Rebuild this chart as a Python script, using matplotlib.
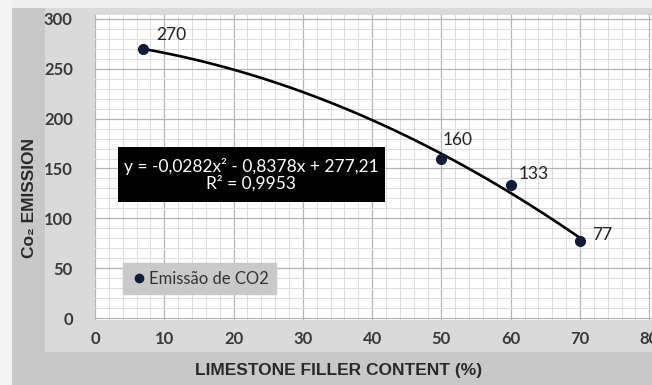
import matplotlib

matplotlib.use("Agg")
import matplotlib.pyplot as plt
import numpy as np
from matplotlib.patches import Rectangle
from matplotlib.lines import Line2D
from matplotlib.ticker import MultipleLocator

# limestone filler content (%) vs CO2 emission
filler = [7, 50, 60, 70]
emission = [270, 160, 133, 77]
point_labels = ["270", "160", "133", "77"]
label_offsets = [(9.5, 10), (1, 13.5), (6, 8.5), (8.5, 4.5)]  # points, label left/centre

# quadratic trendline shown in the chart
trend_coef = [-0.0282, -0.8378, 277.21]
eq_text = "y = -0,0282x² - 0,8378x + 277,21\nR² = 0,9953"

W, H = 652, 385
fig = plt.figure(figsize=(W / 100, H / 100), dpi=100, facecolor="#c8c8c8")


def fig_rect(x0, y0, x1, y1, color):
    # rectangle given in screenshot pixels (top-left origin), kept behind the axes
    fig.patches.append(Rectangle((x0 / W, 1 - y1 / H), (x1 - x0) / W, (y1 - y0) / H,
                                 transform=fig.transFigure, fc=color, ec="none", zorder=-5))


fig_rect(45, 8, W, 352, "#dadada")
fig_rect(0, 0, W, 8, "#efefef")
fig_rect(0, 0, 12, H, "#f3f3f3")

ax = fig.add_axes([95 / W, (H - 320) / H, (W - 95) / W, 305 / H])
ax.set_facecolor("white")
ax.set_xlim(0, 80.4)
ax.set_ylim(-2, 304)

ax.xaxis.set_major_locator(MultipleLocator(10))
ax.xaxis.set_minor_locator(MultipleLocator(2))
ax.yaxis.set_major_locator(MultipleLocator(50))
ax.yaxis.set_minor_locator(MultipleLocator(10))
ax.grid(which="major", color="#b4b4b4", linewidth=0.9)
ax.grid(which="minor", color="#dcdcdc", linewidth=0.7)
ax.set_axisbelow(True)
for s in ax.spines.values():
    s.set_visible(False)
ax.tick_params(which="both", length=0, colors="#3a3a3a", labelsize=12)
ax.tick_params(axis="y", pad=16)
ax.tick_params(axis="x", pad=8)
for t in ax.get_xticklabels() + ax.get_yticklabels():
    t.set_fontfamily("Lato")
    t.set_fontweight("bold")

xs = np.linspace(min(filler), max(filler), 200)
ax.plot(xs, np.polyval(trend_coef, xs), color="black", linewidth=1.9, zorder=3)
ax.plot(filler, emission, "o", color="#0f1d3a", markersize=7, zorder=4)
for x, y, lab, off in zip(filler, emission, point_labels, label_offsets):
    ax.annotate(lab, (x, y), xytext=off, textcoords="offset points", ha="left", va="center",
                fontsize=12.5, color="#222222", family="Lato")

# equation box
bx0, bx1, by0, by1 = 118, 385, 147, 202
ax.add_patch(Rectangle(((bx0 - 95) / 557, 1 - (by1 - 15) / 305), (bx1 - bx0) / 557,
                       (by1 - by0) / 305, transform=ax.transAxes, fc="black", ec="none", zorder=5))
ax.text(((bx0 + bx1) / 2 - 95) / 557, 1 - ((by0 + by1) / 2 - 15) / 305, eq_text,
        transform=ax.transAxes, ha="center", va="center", color="white",
        fontsize=12.5, family="Lato", linespacing=1.0, zorder=6)

leg = ax.legend([Line2D([], [], marker="o", ls="none", color="#0f1d3a", markersize=6)],
                ["Emissão de CO2"], loc="lower left", bbox_to_anchor=(0.05, 0.085),
                frameon=True, fancybox=False, handletextpad=0.1, borderpad=0.45,
                borderaxespad=0, handlelength=1.0, prop={"family": "Lato", "size": 12})
leg.get_frame().set_facecolor("#c9c9c9")
leg.get_frame().set_edgecolor("#c9c9c9")
leg.get_frame().set_alpha(1)
for t in leg.get_texts():
    t.set_color("#333333")

fig.text(339 / W, 1 - 370 / H, "LIMESTONE FILLER CONTENT (%)", ha="center", va="center",
         fontsize=12.5, fontweight="bold", family="Liberation Sans", color="#2a2a2a")
fig.text(29 / W, 1 - 198 / H, "Co₂ EMISSION", ha="center", va="center", rotation=90,
         fontsize=12.5, fontweight="bold", family=["Liberation Sans", "DejaVu Sans"], color="#2a2a2a")

fig.savefig("out.png", dpi=100, facecolor=fig.get_facecolor())
